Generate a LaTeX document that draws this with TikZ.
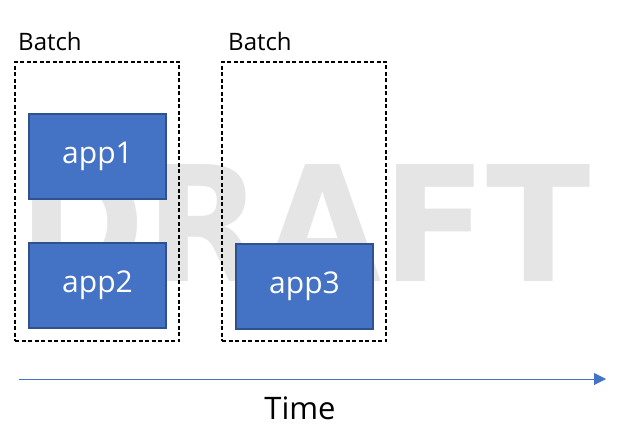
\documentclass[tikz,border=0pt]{standalone}
\usepackage{fontspec}
\setmainfont{Open Sans}
\newfontfamily\markfont{DejaVu Sans}
\usetikzlibrary{arrows.meta,positioning}

\definecolor{appblue}{HTML}{4472C4}
\definecolor{appedge}{HTML}{2F528F}

\begin{document}
\begin{tikzpicture}[
  x=1pt,y=-1pt,
  batch/.style={draw,dashed,dash pattern=on 4pt off 2.5pt,line width=1.4pt,minimum width=164pt,minimum height=279pt},
  app/.style={draw=appedge,line width=1.2pt,fill=appblue,text=white,minimum width=137pt,minimum height=85pt,font=\fontsize{30}{30}\selectfont},
  caption/.style={inner sep=0pt,font=\fontsize{24}{24}\selectfont}
]
  \useasboundingbox (0,0) rectangle (617,435);

  % watermark behind everything
  \node[inner sep=0pt,text=black!10,font=\markfont\bfseries\fontsize{150}{150}\selectfont,xscale=1.02,yscale=1.07] (watermark) at (305,223) {DRAFT};

  \node[batch] (batch-1) at (97,201.5) {};
  \node[batch] (batch-2) at (304,201.5) {};
  \node[caption,anchor=south west] (batch-1-label) at (18,51) {Batch};
  \node[caption,anchor=south west] (batch-2-label) at (228,51) {Batch};

  \node[app] (app1) at (97.5,156.5) {app1};
  \node[app] (app2) at (97.5,285.5) {app2};
  \node[app] (app3) at (304.5,286.5) {app3};

  \coordinate (time-start) at (19,379);
  \coordinate (time-end) at (606,379);
  \draw[appblue,line width=1pt,-{Triangle[length=12pt,width=12pt]}] (time-start) -- (time-end);
  \node[inner sep=0pt,font=\fontsize{31}{31}\selectfont] (time) at (300,408) {Time};
\end{tikzpicture}
\end{document}
